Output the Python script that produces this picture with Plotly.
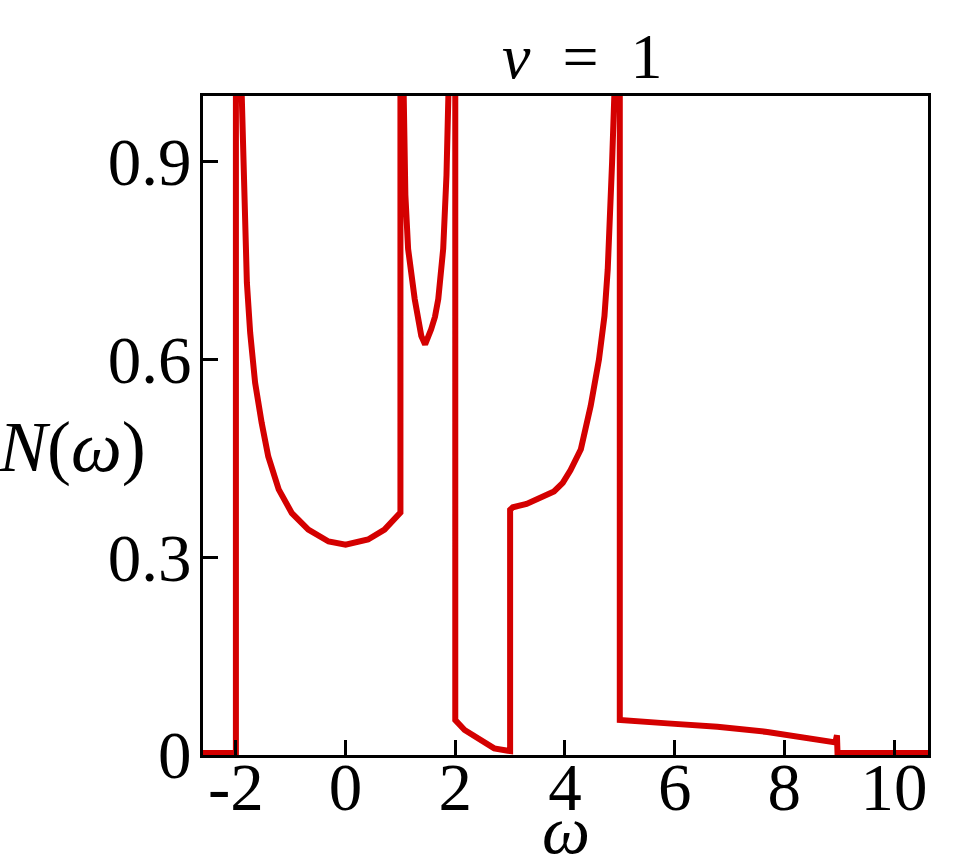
import plotly.graph_objects as go

# density of states N(omega) for v = 1
omega = [-2.6, -2.0, -2.0, -1.96, -1.90, -1.875, -1.855, -1.80, -1.74, -1.65,
         -1.53, -1.41, -1.22, -0.98, -0.68, -0.31, 0.0, 0.41, 0.71, 0.96,
         1.0, 1.0, 1.02, 1.05, 1.09, 1.14, 1.20, 1.26, 1.38, 1.45, 1.56,
         1.63, 1.69, 1.78, 1.84, 1.88, 1.96, 2.0, 2.0, 2.17, 2.35, 2.53,
         2.71, 2.96, 3.0, 3.0, 3.05, 3.3, 3.56, 3.8, 3.96, 4.1, 4.29, 4.47,
         4.62, 4.72, 4.78, 4.83, 4.86, 4.9, 4.96, 5.0, 5.0, 5.87,
         6.78, 7.69, 8.29, 8.93, 8.96, 8.97, 10.62]
dos = [0.003, 0.003, 1.3, 1.3, 1.02, 0.92, 0.844, 0.717, 0.641, 0.565,
       0.504, 0.453, 0.403, 0.367, 0.342, 0.324, 0.319, 0.327, 0.342, 0.362,
       0.368, 1.3, 1.2, 0.98, 0.85, 0.768, 0.722, 0.692, 0.636, 0.623, 0.646,
       0.665, 0.692, 0.768, 0.88, 1.0, 1.3, 1.3, 0.053, 0.038, 0.028, 0.018,
       0.010, 0.0065, 0.006, 0.372, 0.376, 0.381, 0.39, 0.40, 0.413, 0.432, 0.464, 0.53,
       0.60, 0.666, 0.737, 0.82, 0.9, 1.0, 1.3, 1.3, 0.053, 0.048,
       0.043, 0.035, 0.028, 0.019, 0.030, 0.003, 0.003]

x_ticks = [-2, 0, 2, 4, 6, 8, 10]
x_labels = ['-2', '0', '2', '4', '6', '8', '10']
y_ticks = [0, 0.3, 0.6, 0.9]
y_labels = ['0', '0.3', '0.6', '0.9']

serif = 'Liberation Serif'

fig = go.Figure()
fig.add_trace(go.Scatter(x=omega, y=dos, mode='lines',
                         line=dict(color='#d40000', width=6)))

fig.update_xaxes(range=[-2.6, 10.62], tickvals=x_ticks, ticktext=x_labels, ticks='inside',
                 ticklen=15, tickwidth=3, tickcolor='black',
                 showline=True, linewidth=3, linecolor='black', mirror=True,
                 showgrid=False, zeroline=False, ticklabelstandoff=-28, automargin=False,
                 tickfont=dict(family=serif, size=67, color='black'))
fig.update_yaxes(range=[0, 1], tickvals=y_ticks, ticktext=y_labels, ticks='inside',
                 ticklen=15, tickwidth=3, tickcolor='black',
                 showline=True, linewidth=3, linecolor='black', mirror=True,
                 showgrid=False, zeroline=False, ticklabelstandoff=-5, automargin=False,
                 tickfont=dict(family=serif, size=67, color='black'))

fig.add_annotation(text='<i>v</i>\u2002=\u20021', xref='paper', yref='paper', x=0.524, y=1.0,
                   xanchor='center', yanchor='bottom', showarrow=False, yshift=2,
                   font=dict(family=serif, size=64, color='black'))
fig.add_annotation(text='<i>N</i>(<i>ω</i>)', xref='paper', yref='paper', x=-0.285, y=0.467,
                   xanchor='left', yanchor='middle', showarrow=False,
                   font=dict(family=serif, size=72, color='black'))
fig.add_annotation(text='<i>ω</i>', xref='paper', yref='paper', x=0.5, y=-0.114,
                   xanchor='center', yanchor='middle', showarrow=False,
                   font=dict(family=serif, size=68, color='black'))

fig.update_layout(width=968, height=861, showlegend=False,
                  plot_bgcolor='white', paper_bgcolor='white',
                  margin=dict(l=203, r=40, t=96, b=106))

# drop the default page margin so the figure sits at the window's corner
fig.write_html("out.html", config={'displayModeBar': False},
               post_script="document.body.style.margin='0';")
